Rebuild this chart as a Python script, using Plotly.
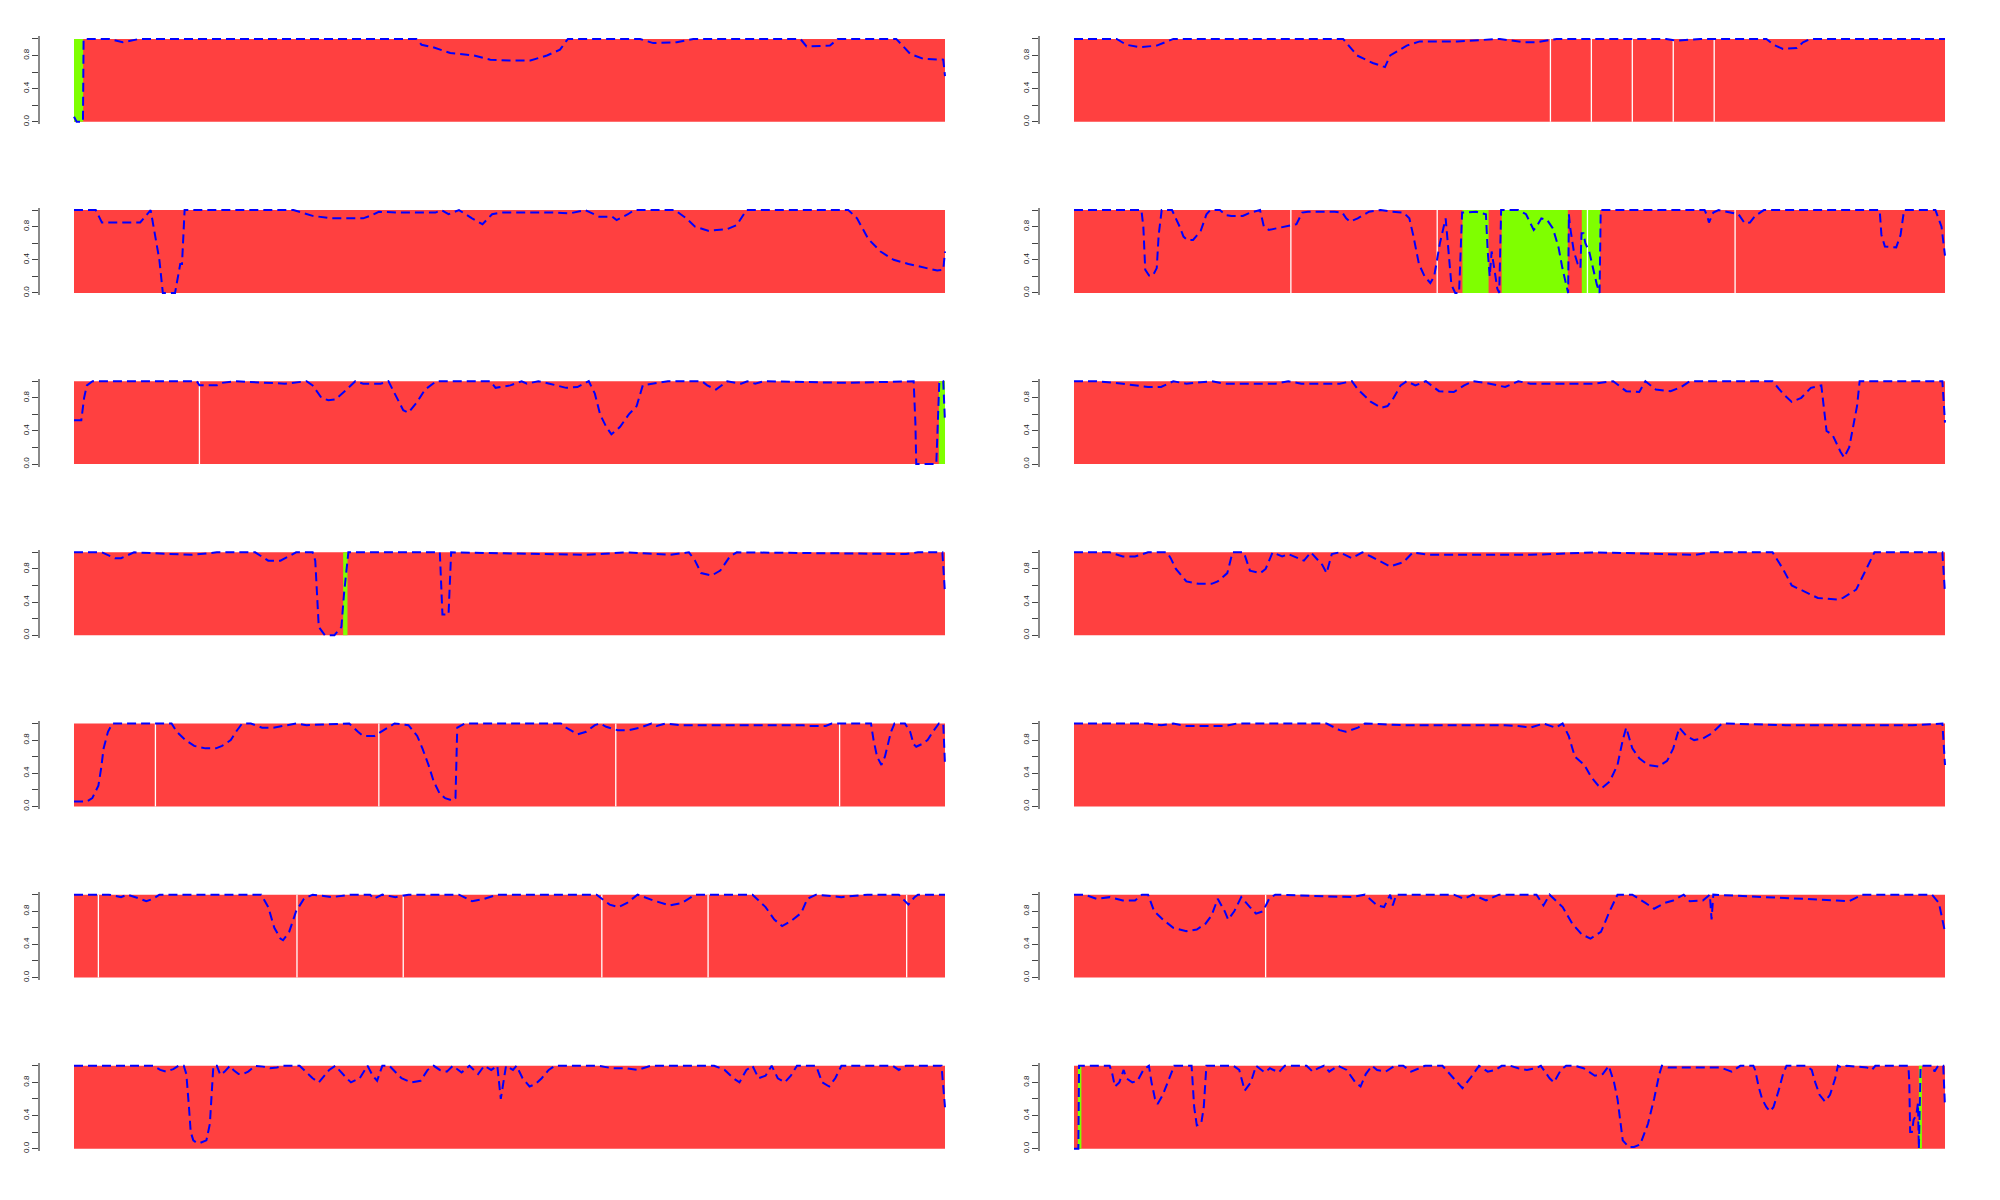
import plotly.graph_objects as go

# ---------------- data (x = position along track in %, y = probability) -------------
P1_PTS = [(0,0.06),(0.3,0.0),(1.03,0.0),(1.1,1.0),(4.1,1.0),(5.6,0.96),(7.5,1.0),(39.3,1.0),(39.9,0.93),
          (41.2,0.9),(43.2,0.83),(45.9,0.8),(47.8,0.75),(50.0,0.74),(52.4,0.74),(54.3,0.8),(55.8,0.87),
          (56.7,1.0),(65.0,1.0),(66.5,0.95),(69.2,0.96),(71.1,1.0),(83.4,1.0),(84.1,0.91),(86.8,0.92),
          (87.7,1.0),(94.4,1.0),(96.0,0.82),(97.5,0.76),(99.8,0.75),(100,0.55)]
P1_GREEN = [(0, 1.05)]
P1_GAPS = []

P2_PTS = [(0,1.0),(4.9,1.0),(6.0,0.93),(7.6,0.9),(9.5,0.92),(11.4,1.0),(30.9,1.0),(32.5,0.8),(34.3,0.71),
          (35.7,0.66),(36.3,0.8),(38.2,0.92),(39.7,0.97),(44.0,0.97),(48.9,1.0),(51.6,0.96),(53.0,0.96),
          (55.4,1.0),(68.0,1.0),(69.2,0.98),(70.7,0.99),(71.9,1.0),(79.5,1.0),(80.3,0.93),(81.4,0.88),
          (83.0,0.89),(83.7,0.96),(84.5,1.0),(100,1.0)]
P2_GREEN = []
P2_GAPS = [54.7, 59.4, 64.1, 68.8, 73.5]

P3_PTS = [(0,1.0),(2.5,1.0),(3.2,0.85),(7.6,0.85),(8.8,1.0),(9.8,0.4),(10.2,0.0),(11.6,0.0),(12.2,0.35),
          (12.4,0.35),(12.7,1.0),(25.2,1.0),(27.4,0.93),(29.6,0.9),(33.2,0.9),(34.0,0.93),(35.0,0.98),
          (37.0,0.97),(41.5,0.97),(42.2,1.0),(43.0,0.95),(44.2,1.0),(45.7,0.9),(46.9,0.83),(48.0,0.95),
          (49.0,0.97),(55.0,0.97),(56.9,0.96),(58.7,1.0),(60.3,0.92),(61.8,0.92),(62.3,0.88),(63.6,0.95),
          (64.3,1.0),(69.0,1.0),(70.3,0.9),(71.3,0.8),(72.8,0.75),(75.0,0.77),(76.1,0.82),(77.2,1.0),
          (88.9,1.0),(89.9,0.9),(91.2,0.65),(92.6,0.5),(94.1,0.4),(95.8,0.35),(97.7,0.3),(99.1,0.27),
          (99.8,0.28),(100,0.5)]
P3_GREEN = []
P3_GAPS = []

P4_PTS = [(0,1.0),(7.74,1.0),(7.96,0.8),(8.18,0.28),(8.62,0.21),(9.06,0.21),(9.5,0.3),(9.72,0.7),(10.07,1.0),
          (11.25,1.0),(12.13,0.8),(12.57,0.68),(13.01,0.64),(13.67,0.64),(14.55,0.75),(15.21,0.95),(15.65,1.0),
          (16.75,1.0),(17.41,0.94),(18.07,0.93),(19.38,0.93),(20.26,0.97),(21.36,1.0),(21.8,0.8),(22.37,0.76),
          (23.34,0.78),(24.44,0.8),(25.54,0.83),(26.2,0.97),(26.85,0.98),(29.93,0.98),(30.81,0.97),(31.25,0.9),
          (31.69,0.86),(32.57,0.9),(33.88,0.98),(35.2,1.0),(36.52,0.98),(37.84,0.97),(38.5,0.9),(38.94,0.7),
          (39.6,0.35),(40.25,0.2),(40.91,0.12),(41.35,0.2),(41.57,0.34),(42.01,0.6),(42.67,0.9),(43.33,0.1),
          (43.77,0.0),(44.21,0.0),(44.56,0.97),(46.19,0.98),(47.29,0.95),(47.5,0.5),(47.73,0.2),(47.95,0.5),
          (48.39,0.2),(48.6,0.05),(48.82,0.0),(49.04,1.0),(51.0,1.0),(51.9,0.95),(52.78,0.76),(53.22,0.82),
          (53.66,0.9),(54.32,0.88),(54.98,0.78),(55.63,0.55),(56.07,0.3),(56.51,0.1),(56.73,0.0),(56.82,0.95),
          (56.95,0.8),(57.39,0.5),(57.83,0.35),(58.14,0.3),(58.27,0.72),(58.49,0.72),(58.71,0.6),(59.15,0.5),
          (59.59,0.3),(60.03,0.1),(60.34,0.0),(60.47,1.0),(72.4,1.0),(72.7,0.93),(72.9,0.85),(73.4,0.97),
          (74.0,1.0),(76.3,0.95),(77.0,0.84),(77.6,0.85),(78.2,0.93),(79.2,1.0),(92.5,1.0),(92.7,0.7),
          (93.1,0.56),(94.4,0.55),(94.9,0.7),(95.3,1.0),(98.9,1.0),(99.6,0.8),(100,0.45)]
P4_GREEN = [(44.6, 47.6), (49.1, 56.7), (58.3, 60.4)]
P4_GAPS = [24.9, 41.7, 58.95, 75.9]

P5_PTS = [(0,0.53),(0.84,0.53),(1.16,0.8),(1.48,0.95),(2.13,1.0),(14.1,1.0),(14.4,0.95),(16.4,0.95),(17.0,0.98),
          (18.5,1.0),(24.2,0.97),(26.7,1.0),(27.4,0.95),(28.4,0.8),(29.2,0.77),(30.0,0.78),(31.3,0.9),(32.3,1.0),
          (33.2,0.97),(35.2,0.97),(36.1,1.0),(36.8,0.85),(37.8,0.65),(38.4,0.62),(39.4,0.75),(40.3,0.9),(41.6,1.0),
          (47.8,1.0),(48.4,0.92),(50.1,0.95),(51.4,1.0),(52.0,0.97),(53.3,1.0),(54.6,0.97),(56.5,0.92),(57.8,0.93),
          (59.1,1.0),(59.8,0.85),(60.4,0.6),(61.1,0.45),(61.7,0.36),(62.7,0.45),(63.7,0.6),(64.6,0.7),(65.3,0.95),
          (68.2,1.0),(72.1,1.0),(72.7,0.95),(73.7,0.9),(75.0,1.0),(76.6,0.97),(77.3,1.0),(78.2,0.97),(79.2,1.0),
          (86.3,0.98),(88.9,0.98),(96.4,1.0),(96.6,0.5),(96.7,0.0),(99.0,0.0),(99.35,1.0),(99.8,1.0),(100,0.5)]
P5_GREEN = [(99.3, 100)]
P5_GAPS = [14.4]

P6_PTS = [(0,1.0),(2.6,1.0),(5.6,0.97),(8.5,0.93),(10.0,0.93),(11.4,1.0),(12.9,0.97),(15.8,1.0),(17.3,0.97),
          (23.1,0.97),(24.6,1.0),(26.1,0.97),(30.5,0.97),(31.9,1.0),(32.6,0.9),(34.1,0.75),(35.3,0.68),(36.0,0.7),
          (36.7,0.8),(37.5,0.95),(38.2,1.0),(39.2,0.95),(40.4,1.0),(41.9,0.88),(43.6,0.87),(44.8,0.95),(45.8,1.0),
          (47.3,0.98),(49.5,0.93),(51.0,1.0),(52.4,0.97),(59.7,0.97),(61.9,1.0),(63.4,0.88),(64.9,0.87),(65.6,1.0),
          (66.8,0.9),(68.5,0.88),(69.7,0.93),(70.7,1.0),(80.2,1.0),(81.4,0.85),(82.4,0.75),(83.5,0.8),(84.6,0.92),
          (85.8,0.95),(86.4,0.4),(87.1,0.35),(88.0,0.15),(88.4,0.08),(89.0,0.2),(89.5,0.5),(89.9,0.7),(90.2,1.0),
          (99.7,1.0),(100,0.5)]
P6_GREEN = []
P6_GAPS = []

P7_PTS = [(0,1.0),(3.2,1.0),(4.7,0.93),(5.4,0.93),(6.9,1.0),(13.5,0.97),(16.4,1.0),(20.8,1.0),(22.3,0.9),
          (23.7,0.9),(25.5,1.0),(27.4,1.0),(27.7,0.9),(28.1,0.1),(28.8,0.0),(29.9,0.0),(30.7,0.1),(31.0,0.5),
          (31.5,1.0),(42.0,1.0),(42.3,0.25),(43.0,0.25),(43.3,1.0),(58.9,0.97),(63.3,1.0),(68.4,0.97),(70.6,1.0),
          (71.3,0.9),(72.0,0.75),(73.2,0.72),(74.2,0.78),(75.3,0.95),(76.1,1.0),(95.5,0.98),(96.9,1.0),(99.7,1.0),
          (100,0.5)]
P7_GREEN = [(30.9, 31.4)]
P7_GAPS = []

P8_PTS = [(0,1.0),(4.1,1.0),(5.6,0.95),(7.0,0.95),(8.5,1.0),(10.7,1.0),(11.1,0.93),(11.7,0.8),(12.9,0.65),
          (14.3,0.62),(15.8,0.62),(16.5,0.65),(17.6,0.75),(18.2,1.0),(19.5,1.0),(20.2,0.78),(21.4,0.75),(22.0,0.8),
          (22.8,1.0),(23.9,0.95),(24.6,0.98),(26.4,0.9),(27.2,1.0),(28.5,0.85),(29.0,0.75),(29.6,0.98),(30.5,1.0),
          (31.9,0.93),(33.1,1.0),(34.1,0.95),(36.3,0.83),(37.8,0.88),(38.9,1.0),(40.7,0.97),(52.4,0.97),(60.0,1.0),
          (71.4,0.97),(72.9,1.0),(80.2,1.0),(81.4,0.8),(82.4,0.6),(83.9,0.52),(85.4,0.45),(87.6,0.43),(88.3,0.45),
          (89.8,0.55),(90.5,0.7),(91.5,0.9),(91.9,1.0),(99.7,1.0),(100,0.5)]
P8_GREEN = []
P8_GAPS = []

P9_PTS = [(0,0.06),(1.5,0.06),(2.1,0.1),(2.8,0.25),(3.1,0.45),(3.4,0.7),(3.9,0.9),(4.4,1.0),(11.2,1.0),
          (11.8,0.9),(12.8,0.8),(13.8,0.73),(15.1,0.7),(16.3,0.7),(17.0,0.73),(18.0,0.8),(18.6,0.9),(19.3,1.0),
          (20.3,1.0),(21.6,0.95),(22.9,0.95),(24.5,0.98),(25.5,1.0),(26.7,0.98),(31.6,1.0),(32.6,0.9),(33.2,0.85),
          (34.5,0.85),(35.8,0.93),(36.8,1.0),(38.4,0.98),(39.4,0.85),(40.0,0.7),(40.7,0.5),(41.3,0.3),(42.0,0.15),
          (42.6,0.1),(43.5,0.07),(43.8,0.1),(44.0,0.95),(44.9,1.0),(55.9,1.0),(56.5,0.95),(57.8,0.87),(58.8,0.9),
          (59.8,0.98),(60.4,1.0),(61.1,0.96),(62.4,0.92),(63.7,0.92),(65.0,0.95),(66.3,1.0),(66.9,0.97),(67.9,1.0),
          (69.5,0.98),(83.7,0.98),(84.4,0.97),(86.3,0.97),(87.0,1.0),(91.5,1.0),(91.8,0.8),(92.2,0.6),(92.7,0.5),
          (93.1,0.6),(93.8,0.9),(94.2,1.0),(95.4,1.0),(96.0,0.9),(96.4,0.75),(96.7,0.72),(97.3,0.75),(98.0,0.8),
          (98.6,0.9),(99.3,1.0),(99.8,1.0),(100,0.5)]
P9_GREEN = []
P9_GAPS = [9.35, 35.0, 62.2, 87.9]

P10_PTS = [(0,1.0),(8.5,1.0),(10.0,0.98),(11.4,1.0),(12.9,0.97),(17.3,0.97),(18.7,1.0),(29.0,1.0),(30.5,0.92),
           (31.2,0.9),(32.6,0.95),(33.4,1.0),(37.8,0.98),(49.5,0.98),(51.0,0.97),(52.4,0.95),(53.9,1.0),(55.3,0.95),
           (56.1,1.0),(56.8,0.85),(57.5,0.6),(58.6,0.5),(59.4,0.35),(60.2,0.25),(60.6,0.22),(61.5,0.3),(62.4,0.5),
           (63.0,0.8),(63.4,0.95),(64.1,0.7),(64.9,0.58),(65.9,0.5),(67.1,0.48),(68.1,0.55),(68.8,0.7),(69.5,0.95),
           (70.3,0.85),(71.2,0.8),(72.2,0.82),(73.2,0.88),(74.4,1.0),(81.7,0.98),(96.3,0.98),(99.7,1.0),(100,0.5)]
P10_GREEN = []
P10_GAPS = []

P11_PTS = [(0,1.0),(4.0,1.0),(5.4,0.97),(6.1,1.0),(7.6,0.95),(8.3,0.92),(9.1,0.95),(9.8,1.0),(21.5,1.0),
           (22.3,0.85),(23.0,0.6),(23.7,0.47),(24.0,0.45),(24.7,0.55),(25.5,0.8),(26.4,0.95),(27.4,1.0),(29.6,0.97),
           (31.8,1.0),(34.0,1.0),(34.4,0.95),(35.4,1.0),(36.9,0.97),(38.4,1.0),(44.2,1.0),(45.7,0.92),(47.1,0.95),
           (48.6,1.0),(60.0,1.0),(61.5,0.88),(62.5,0.85),(63.5,0.9),(64.7,1.0),(66.5,0.93),(68.4,0.87),(69.8,0.9),
           (71.3,1.0),(77.9,1.0),(79.4,0.85),(80.4,0.7),(81.3,0.62),(82.3,0.68),(83.5,0.78),(84.2,0.95),(85.2,1.0),
           (88.1,0.97),(91.1,1.0),(94.7,1.0),(95.8,0.88),(96.5,0.97),(96.9,1.0),(100,1.0)]
P11_GREEN = []
P11_GAPS = [2.8, 25.6, 37.8, 60.6, 72.8, 95.6]

P12_PTS = [(0,1.0),(1.2,1.0),(2.6,0.95),(4.1,0.97),(5.6,0.93),(7.0,0.93),(7.8,1.0),(8.5,1.0),(9.2,0.8),
           (10.2,0.7),(11.4,0.6),(12.9,0.56),(14.1,0.58),(15.1,0.65),(15.8,0.75),(16.5,0.95),(17.3,0.8),(17.7,0.7),
           (18.4,0.8),(19.2,0.97),(20.2,0.85),(20.9,0.77),(21.7,0.8),(22.4,0.95),(23.1,1.0),(31.9,0.97),(33.4,1.0),
           (34.8,0.87),(35.6,0.85),(36.3,1.0),(36.6,0.87),(37.0,1.0),(43.6,1.0),(44.8,0.95),(45.8,1.0),(47.3,0.93),
           (48.8,1.0),(53.1,1.0),(53.9,0.87),(54.6,1.0),(56.1,0.85),(57.2,0.65),(58.3,0.52),(59.3,0.47),(60.5,0.55),
           (61.5,0.8),(62.4,1.0),(64.1,1.0),(65.6,0.9),(66.6,0.83),(67.8,0.9),(68.8,0.93),(70.0,1.0),(70.7,0.92),
           (72.2,0.93),(73.0,1.0),(73.2,0.7),(73.4,1.0),(87.6,0.93),(89.0,0.92),(90.5,1.0),(98.5,1.0),(99.3,0.9),
           (100,0.55)]
P12_GREEN = []
P12_GAPS = [22.0]

P13_PTS = [(0,1.0),(9.1,1.0),(9.9,0.95),(10.6,0.93),(11.4,0.96),(12.0,1.0),(12.6,1.0),(12.9,0.9),(13.2,0.5),
           (13.4,0.2),(13.7,0.1),(14.1,0.07),(14.5,0.07),(15.2,0.1),(15.6,0.3),(15.8,0.6),(16.0,1.0),(16.4,1.0),
           (16.8,0.89),(17.3,0.93),(17.9,1.0),(18.3,0.95),(18.9,0.9),(19.4,0.9),(20.0,0.93),(20.8,1.0),(21.7,0.99),
           (22.5,0.97),(23.3,0.98),(24.0,1.0),(25.9,1.0),(27.4,0.85),(28.1,0.8),(29.3,0.95),(30.0,1.0),(31.3,0.85),
           (31.8,0.8),(32.8,0.85),(33.7,1.0),(34.3,0.88),(34.8,0.82),(35.4,1.0),(36.2,1.0),(37.6,0.85),(38.7,0.8),
           (39.8,0.82),(40.6,0.95),(41.3,1.0),(42.0,0.95),(42.8,0.93),(43.5,1.0),(44.5,0.92),(45.4,1.0),(46.4,0.9),
           (47.1,1.0),(47.9,0.95),(48.6,1.0),(49.0,0.6),(49.6,1.0),(50.4,0.95),(50.8,1.0),(51.5,0.85),(52.3,0.75),
           (53.0,0.78),(53.7,0.85),(54.5,0.95),(55.2,1.0),(60.3,1.0),(61.8,0.97),(63.3,0.97),(64.7,0.95),(66.2,1.0),
           (73.5,1.0),(74.7,0.95),(75.7,0.85),(76.4,0.8),(77.2,0.95),(77.9,1.0),(78.6,0.85),(79.4,0.88),(80.1,1.0),
           (80.8,0.85),(81.6,0.8),(82.3,0.88),(83.0,1.0),(85.2,1.0),(85.9,0.8),(86.7,0.75),(87.4,0.85),(88.1,1.0),
           (94.0,1.0),(94.7,0.95),(95.5,1.0),(99.6,1.0),(100,0.5)]
P13_GREEN = []
P13_GAPS = []

P14_PTS = [(0,0.0),(0.5,0.0),(0.58,1.0),(4.1,1.0),(4.4,0.9),(4.7,0.75),(5.2,0.8),(5.7,0.95),(6.0,0.85),(6.7,0.8),
           (7.3,0.82),(7.96,0.95),(8.6,1.0),(8.9,0.8),(9.3,0.6),(9.6,0.54),(10.2,0.65),(10.9,0.85),(11.5,1.0),
           (13.5,1.0),(13.8,0.5),(14.1,0.28),(14.6,0.3),(14.9,0.5),(15.2,1.0),(18.3,1.0),(18.97,0.95),(19.6,0.7),
           (20.3,0.8),(20.9,1.0),(21.9,0.92),(22.5,0.97),(23.5,0.92),(24.2,1.0),(26.7,1.0),(27.4,0.93),(28.0,0.97),
           (28.7,1.0),(29.3,0.93),(30.3,1.0),(31.3,0.95),(32.3,0.8),(32.9,0.75),(33.5,0.9),(34.2,1.0),(34.8,0.95),
           (35.8,0.93),(36.8,1.0),(37.8,1.0),(38.7,0.93),(39.7,0.97),(40.3,1.0),(42.3,1.0),(43.6,0.85),(44.6,0.73),
           (45.5,0.85),(46.5,1.0),(47.5,0.93),(48.4,0.95),(49.1,1.0),(50.1,1.0),(51.0,0.97),(52.0,0.95),(53.0,0.97),
           (53.6,1.0),(54.6,0.85),(55.1,0.8),(55.9,0.95),(56.5,1.0),(57.5,1.0),(58.5,0.97),(59.8,0.88),(60.7,0.9),
           (61.4,1.0),(62.0,0.8),(62.4,0.6),(62.7,0.35),(63.0,0.1),(63.7,0.02),(64.3,0.02),(65.0,0.05),(65.9,0.3),
           (66.6,0.6),(67.2,0.9),(67.5,1.0),(68.2,0.98),(71.9,0.98),(74.2,0.98),(75.5,0.93),(76.5,1.0),(78.0,1.0),
           (78.2,0.95),(78.6,0.75),(79.0,0.6),(79.5,0.5),(79.9,0.45),(80.3,0.5),(80.9,0.7),(81.4,0.9),(81.8,1.0),
           (84.1,1.0),(84.7,0.95),(85.1,0.8),(85.6,0.65),(86.2,0.57),(86.8,0.65),(87.4,0.85),(87.7,1.0),(88.1,0.98),
           (88.7,1.0),(91.0,0.98),(91.6,0.95),(92.0,1.0),(95.8,1.0),(95.9,0.8),(96.0,0.2),(96.2,0.2),(96.4,0.35),
           (96.7,0.4),(96.8,0.5),(96.9,0.55),(97.0,0.0),(97.2,1.0),(97.5,1.0),(98.6,1.0),(98.8,0.93),(99.2,1.0),
           (99.8,1.0),(100,0.5)]
P14_GREEN = [(0.45, 0.85), (97.0, 97.35)]
P14_GAPS = []

Y_TICKS = [0.0, 0.2, 0.4, 0.6, 0.8, 1.0]
Y_TICK_TEXT = ["0.0", "", "0.4", "", "0.8", ""]

PANELS = [
    (P1_PTS, P1_GREEN, P1_GAPS), (P2_PTS, P2_GREEN, P2_GAPS),
    (P3_PTS, P3_GREEN, P3_GAPS), (P4_PTS, P4_GREEN, P4_GAPS),
    (P5_PTS, P5_GREEN, P5_GAPS), (P6_PTS, P6_GREEN, P6_GAPS),
    (P7_PTS, P7_GREEN, P7_GAPS), (P8_PTS, P8_GREEN, P8_GAPS),
    (P9_PTS, P9_GREEN, P9_GAPS), (P10_PTS, P10_GREEN, P10_GAPS),
    (P11_PTS, P11_GREEN, P11_GAPS), (P12_PTS, P12_GREEN, P12_GAPS),
    (P13_PTS, P13_GREEN, P13_GAPS), (P14_PTS, P14_GREEN, P14_GAPS),
]

# ---------------- styling / layout ----------------
RED = "#FF4040"
GREEN = "#7FFF00"
BLUE = "#0000FF"
W, H = 2000, 1200
ROW_TOP0, ROW_STEP, PLOT_H = 39.0, 171.43, 83.0
LEFTS = [74.0, 1074.0]
PLOT_W = 871.0
XPAD, YPAD = 0.5, 0.03
AXIS_OFFSET = 35.0

fig = go.Figure()
layout = dict(width=W, height=H, margin=dict(l=0, r=0, t=0, b=0),
              paper_bgcolor="white", plot_bgcolor="rgba(0,0,0,0)",
              showlegend=False, barmode="overlay")

for k, (pts, greens, gaps) in enumerate(PANELS):
    r, c = divmod(k, 2)
    suf = "" if k == 0 else str(k + 1)
    xa, ya = "x" + suf, "y" + suf
    L = LEFTS[c]
    ppu = PLOT_W / 100.0
    top = ROW_TOP0 + ROW_STEP * r
    layout["xaxis" + suf] = dict(domain=[(L - XPAD * ppu) / W, (L + PLOT_W + XPAD * ppu) / W],
                                 range=[-XPAD, 100 + XPAD], visible=False, anchor=ya,
                                 showgrid=False, zeroline=False)
    layout["yaxis" + suf] = dict(domain=[1 - (top + PLOT_H * (1 + YPAD)) / H, 1 - (top - PLOT_H * YPAD) / H],
                                 range=[-YPAD, 1 + YPAD], anchor="free", position=(L - AXIS_OFFSET) / W,
                                 tickmode="array", tickvals=Y_TICKS, ticktext=Y_TICK_TEXT,
                                 tickangle=-90, ticks="outside", ticklen=6, tickwidth=1, tickcolor="#444",
                                 showline=True, linecolor="#8a8a8a", linewidth=1.5,
                                 showgrid=False, zeroline=False,
                                 tickfont=dict(size=8, color="#222", family="Liberation Sans, Arial"))
    # red background track
    fig.add_trace(go.Bar(x=[50], y=[1], base=[0], width=[100], marker=dict(color=RED, line=dict(width=0)),
                         xaxis=xa, yaxis=ya, hoverinfo="skip"))
    # green states
    if greens:
        fig.add_trace(go.Bar(x=[(a + b) / 2 for a, b in greens], y=[1] * len(greens), base=[0] * len(greens),
                             width=[b - a for a, b in greens],
                             marker=dict(color=GREEN, line=dict(width=0)),
                             xaxis=xa, yaxis=ya, hoverinfo="skip"))
    # white separators
    if gaps:
        gx, gy = [], []
        for g in gaps:
            gx += [g, g, None]
            gy += [0, 1, None]
        fig.add_trace(go.Scatter(x=gx, y=gy, mode="lines", line=dict(color="white", width=1.3),
                                 xaxis=xa, yaxis=ya, hoverinfo="skip"))
    # blue dashed probability line
    xs = [p[0] for p in pts]
    ys = [p[1] for p in pts]
    fig.add_trace(go.Scatter(x=xs, y=ys, mode="lines",
                             line=dict(color=BLUE, width=2, dash="9px,5px"),
                             xaxis=xa, yaxis=ya, hoverinfo="skip"))

fig.update_layout(**layout)
fig.write_html("out.html")
